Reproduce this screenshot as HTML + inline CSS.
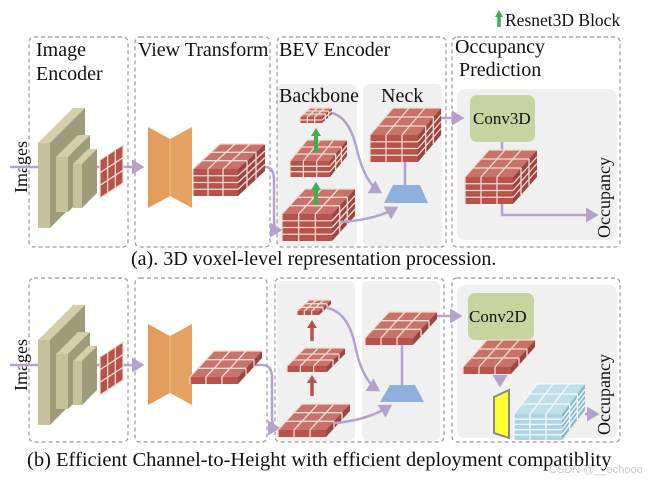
<!DOCTYPE html>
<html><head><meta charset="utf-8"><style>
html,body{margin:0;padding:0;background:#fff;width:654px;height:481px;overflow:hidden}
svg{display:block}
text{font-family:"Liberation Serif",serif;fill:#111}
</style></head><body>
<svg id="s" width="654" height="481" viewBox="0 0 654 481" xmlns="http://www.w3.org/2000/svg">
<defs>
<marker id="ap" markerWidth="6" markerHeight="6" refX="4" refY="3" orient="auto" markerUnits="strokeWidth"><path d="M0,0 L5,3 L0,6 z" fill="#b3a3cc"/></marker>
</defs>
<rect x="277" y="84" width="80" height="162" rx="6" fill="#f0f0f0"/>
<rect x="363" y="84" width="79" height="162" rx="6" fill="#f0f0f0"/>
<rect x="457" y="89" width="160" height="151" rx="8" fill="#f0f0f0"/>
<rect x="277" y="281" width="78" height="160" rx="6" fill="#f0f0f0"/>
<rect x="362" y="281" width="78" height="160" rx="6" fill="#f0f0f0"/>
<rect x="457" y="285" width="160" height="153" rx="8" fill="#f0f0f0"/>
<g fill="none" stroke="#999" stroke-width="1.2" stroke-dasharray="4,3">
<rect x="29" y="37" width="99" height="210" rx="5"/>
<rect x="135" y="37" width="135" height="210" rx="5"/>
<rect x="277" y="37" width="169" height="210" rx="5"/>
<rect x="452" y="37" width="168" height="210" rx="5"/>
<rect x="29" y="278" width="99" height="164" rx="5"/>
<rect x="135" y="278" width="132" height="164" rx="5"/>
<rect x="275" y="278" width="169" height="164" rx="5"/>
<rect x="452" y="278" width="168" height="164" rx="5"/>
</g>
<g font-size="20">
<text x="36" y="56">Image</text><text x="36" y="80">Encoder</text>
<text x="138" y="56">View Transform</text>
<text x="279" y="56">BEV Encoder</text>
<text x="455" y="53">Occupancy</text><text x="459" y="76">Prediction</text>
<text x="279" y="102">Backbone</text>
<text x="381" y="102">Neck</text>
</g>
<text x="505" y="26" font-size="17.5">Resnet3D Block</text>
<path d="M499,27 V16" stroke="#3fae4f" stroke-width="3.5"/><path d="M495,17 L499,10 L503,17z" fill="#3fae4f"/>
<text transform="translate(27,193) rotate(-90)" font-size="18">Images</text>
<text transform="translate(27,391) rotate(-90)" font-size="18">Images</text>
<text transform="translate(610,238) rotate(-90)" font-size="18">Occupancy</text>
<text transform="translate(610,435) rotate(-90)" font-size="18">Occupancy</text>
<text x="131" y="265" font-size="20">(a). 3D voxel-level representation procession.</text>
<text x="27" y="466" font-size="20.5">(b) Efficient Channel-to-Height with efficient deployment compatiblity</text>
<text x="549" y="473" font-size="11" style="font-family:'Liberation Sans',sans-serif;fill:#ccc">CSDN @__echooo</text>
<g id="dyn"></g>
</svg>
<script>
var g=document.getElementById("dyn"),out="";
function P(pts,f,extra){out+='<polygon points="'+pts.map(p=>p.join(",")).join(" ")+'" fill="'+f+'" '+(extra||'')+'/>';}
function L(x1,y1,x2,y2,c,w){out+='<line x1="'+x1+'" y1="'+y1+'" x2="'+x2+'" y2="'+y2+'" stroke="'+c+'" stroke-width="'+(w||1.3)+'"/>';}
function path(d,c,w,m){out+='<path d="'+d+'" fill="none" stroke="'+c+'" stroke-width="'+(w||2.5)+'"'+(m?' marker-end="url(#ap)"':'')+'/>';}
function cube(x,y,w,h,dx,dy,rows,cols,depth,col){
  col=col||["#b7534b","#c8726a","#9c4540","#f1ddd2"];
  var lc=col[3];
  P([[x,y],[x+dx,y+dy],[x+w+dx,y+dy],[x+w,y]],col[1]);
  for(var i=1;i<cols;i++)L(x+w*i/cols,y,x+w*i/cols+dx,y+dy,lc);
  for(var j=1;j<depth;j++)L(x+dx*j/depth,y+dy*j/depth,x+w+dx*j/depth,y+dy*j/depth,lc);
  P([[x+w,y],[x+w+dx,y+dy],[x+w+dx,y+h+dy],[x+w,y+h]],col[2]);
  for(var j=1;j<depth;j++)L(x+w+dx*j/depth,y+dy*j/depth,x+w+dx*j/depth,y+h+dy*j/depth,lc);
  for(var r=1;r<rows;r++)L(x+w,y+h*r/rows,x+w+dx,y+dy+h*r/rows,lc);
  P([[x,y],[x+w,y],[x+w,y+h],[x,y+h]],col[0]);
  for(var r=1;r<rows;r++)L(x,y+h*r/rows,x+w,y+h*r/rows,lc);
  for(var i=1;i<cols;i++)L(x+w*i/cols,y,x+w*i/cols,y+h,lc);
  out+='<polyline points="'+[[x,y+h],[x,y],[x+dx,y+dy],[x+w+dx,y+dy]].join(" ")+'" fill="none" stroke="'+lc+'" stroke-width="1.2"/>';
}
function encoder(oy){
  var s=[[38,143,50,228,35],[56,157,68,212,22],[73,164,82,208,15]];
  s.forEach(function(a){
    var x1=a[0],y1=a[1]+oy,x2=a[2],y2=a[3]+oy,d=a[4];
    P([[x1,y1],[x1+d,y1-d],[x2+d,y1-d],[x2,y1]],"#d4cfaa");
    P([[x2,y1],[x2+d,y1-d],[x2+d,y2-d],[x2,y2]],"#9e9a7a");
    P([[x1,y1],[x2,y1],[x2,y2],[x1,y2]],"#c6c19a");
  });
  var a=[100,160+oy],b=[123,145+oy],h=38;
  P([[a[0],a[1]],[b[0],b[1]],[b[0],b[1]+h],[a[0],a[1]+h]],"#b7534b",'stroke="#f1ddd2" stroke-width="1.2"');
  for(var i=1;i<3;i++){var t=i/3;L(a[0]+23*t,a[1]-15*t,a[0]+23*t,a[1]-15*t+h,"#f1ddd2");L(a[0],a[1]+h*t,b[0],b[1]+h*t,"#f1ddd2");}
  P([[148,127+oy],[170,139+oy],[170,196+oy],[148,208+oy]],"#e39c5c");
  P([[170,139+oy],[192,127+oy],[192,208+oy],[170,196+oy]],"#e6a263");
  L(170,139+oy,170,196+oy,"#f4c590",1);
}
var PU="#b3a3cc";
path("M10,167 H38",PU);path("M97,167 H101",PU);path("M123,167 H142",PU,2.5,1);
encoder(0);
path("M238,167 H265 Q274,167 274,180 V220 Q274,230 280,230",PU,2.5,1);
cube(193,169,45,27,27,-25,4,3,3);
cube(282,214,50,27,23,-25,4,3,3);
cube(290,161,40,16,17,-21,3,3,3);
cube(300,117,22,6,10,-9,2,3,3);
path("M316,205 V189",'#3fae4f',4);P([[311,190],[316,182],[321,190]],"#3fae4f");
path("M316,152 V135",'#3fae4f',4);P([[311,136],[316,128],[321,136]],"#3fae4f");
path("M332,113 Q350,118 357,150 Q365,183 380,192",PU,2.5,1);
path("M340,222 Q375,220 396,208",PU,2.5,1);
path("M405,161 V186",PU,2.5);
P([[393,185],[420,185],[428,203],[384,203]],"#8fb0df");
cube(370,135,48,27,23,-27,4,3,3);
path("M441,118 H462",PU,2.5,1);
out+='<rect x="470" y="95" width="65" height="47" rx="7" fill="#c7d49f"/>';
out+='<text x="473" y="124" font-size="17">Conv3D</text>';
path("M502,142 V152",PU,2.5);
path("M502,200 V215 H596",PU,2.5,1);
cube(465,177,48,27,24,-27,4,3,3);
path("M10,365 H38",PU);path("M97,365 H101",PU);path("M123,365 H142",PU,2.5,1);
encoder(197);
path("M238,365 H262 Q272,365 272,378 V418 Q272,428 278,428",PU,2.5,1);
cube(190,377,48,7,24,-26,1,3,3);
cube(278,430,48,7,24,-26,1,3,3);
cube(287,366,40,6,18,-18,1,3,3);
cube(297,311,22,4,12,-11,1,3,3);
path("M312,396 V382",'#b7534b',3.5);P([[307,383],[312,375],[317,383]],"#b7534b");
path("M312,341 V327",'#b7534b',3.5);P([[307,328],[312,320],[317,328]],"#b7534b");
path("M327,308 Q348,312 355,345 Q362,380 378,390",PU,2.5,1);
path("M335,423 Q368,420 390,406",PU,2.5,1);
path("M402,345 V386",PU,2.5);
P([[390,385],[415,385],[424,402],[380,402]],"#8fb0df");
cube(365,338,48,7,24,-26,1,3,3);
path("M437,316 H460",PU,2.5,1);
out+='<rect x="468" y="293" width="66" height="47" rx="7" fill="#c7d49f"/>';
out+='<text x="469" y="322" font-size="17">Conv2D</text>';
cube(463,367,48,7,24,-27,1,3,3);
path("M500,375 V385",PU,2.5,1);
P([[494,397],[509,390],[509,438],[494,433]],"#ffff33",'stroke="#888" stroke-width="2"');
cube(514,414,48,26,23,-30,5,3,3,["#aed4e3","#bfe0ea","#8bb9cc","#f4fbfd"]);
path("M585,414 H597",PU,2.5,1);
g.innerHTML=out;
</script>
</body></html>
